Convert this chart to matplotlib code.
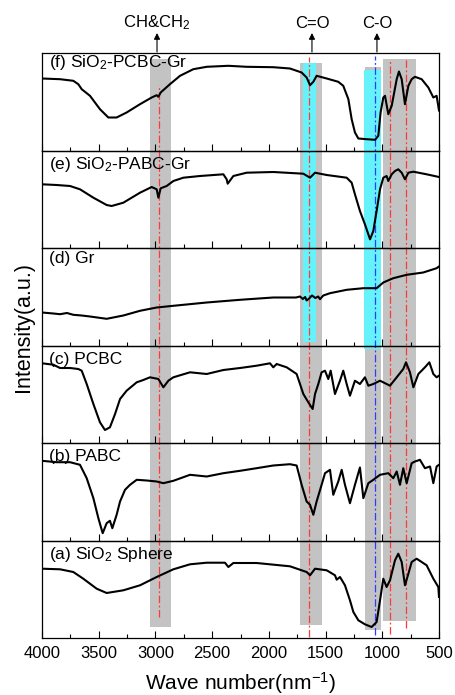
import matplotlib
matplotlib.use('Agg')
import matplotlib.pyplot as plt
from matplotlib.patches import Rectangle
from matplotlib.ticker import MultipleLocator

plt.rcParams['font.family'] = ['Liberation Sans', 'DejaVu Sans']
plt.rcParams['mathtext.fontset'] = 'custom'
plt.rcParams['mathtext.rm'] = 'Liberation Sans'
plt.rcParams['mathtext.it'] = 'Liberation Sans:italic'

# ---------------- data (wavenumber, intensity a.u.) ----------------
wn_f = [4000, 3841, 3724, 3680, 3650, 3577, 3489, 3415, 3342, 3254, 3136, 3033, 2989, 2974, 2954,
        2872, 2783, 2666, 2548, 2357, 2196, 1961, 1814, 1711, 1667, 1637, 1608, 1579, 1490, 1388,
        1344, 1299, 1270, 1241, 1211, 1138, 1064, 1035, 1015, 991, 976, 947, 917, 873, 853, 829,
        800, 770, 741, 712, 653, 594, 550, 521, 500]
int_f = [72, 71.3, 69.7, 66.3, 61.3, 54.7, 41.3, 33, 33, 38, 46.3, 53, 55.3, 53.7, 58,
         66.3, 74.7, 81.3, 83.7, 84.7, 83.7, 83.3, 82, 78, 73, 65.3, 68.7, 74.7, 72, 68.7,
         64.7, 51.3, 31.3, 18, 12, 11.3, 10.7, 14.7, 38, 53, 54.7, 36.3, 44.7, 71.3, 79, 71.3,
         46.3, 64.7, 71.3, 73.7, 71.3, 63, 53, 54.7, 40]

wn_e = [4000, 3871, 3753, 3665, 3547, 3430, 3386, 3283, 3136, 3033, 2989, 2974, 2954, 2901, 2842,
        2754, 2607, 2401, 2372, 2363, 2313, 2196, 1961, 1696, 1637, 1593, 1490, 1314, 1270, 1241,
        1197, 1153, 1108, 1079, 1050, 1020, 991, 962, 947, 917, 888, 859, 829, 800, 770, 726,
        609, 500]
int_e = [63.7, 63, 62, 58.7, 50.3, 43, 42, 45.3, 55.3, 61, 58.7, 50.3, 59.7, 62, 67,
         70.3, 72, 73.7, 68.7, 64.3, 72, 75.3, 76, 74.3, 70.3, 75.3, 73, 70.3, 65.3, 53.7,
         37, 23.7, 8.7, 17, 37, 58.7, 70.3, 72, 67, 73.7, 77, 78.7, 75.3, 68.7, 75.3, 76.3,
         73.7, 71]

wn_d = [4000, 3900, 3841, 3780, 3724, 3650, 3577, 3430, 3283, 3136, 2989, 2842, 2548, 2254, 1961,
        1760, 1726, 1700, 1680, 1667, 1645, 1620, 1608, 1590, 1565, 1549, 1520, 1461, 1314, 1167,
        1050, 991, 903, 785, 639, 521, 500]
int_d = [33, 32, 31.3, 32.5, 30.7, 30, 29, 26.7, 30, 34.7, 38, 39.7, 43, 45.7, 48,
         48, 49, 46.5, 48.5, 45, 47, 50, 49, 47.5, 49, 46.3, 50, 52.3, 55.7, 57.3,
         57.3, 63, 67.3, 70.7, 73, 77.3, 79]

wn_c = [4000, 3900, 3841, 3753, 3680, 3650, 3606, 3547, 3489, 3445, 3401, 3356, 3312, 3254, 3165,
        3107, 3048, 2974, 2930, 2886, 2842, 2695, 2548, 2401, 2254, 2108, 1990, 1961, 1931, 1843,
        1755, 1696, 1652, 1614, 1593, 1564, 1535, 1505, 1476, 1455, 1417, 1373, 1344, 1314, 1285,
        1241, 1197, 1153, 1123, 1079, 1020, 932, 873, 815, 791, 756, 726, 682, 624, 585,
        550, 521, 500]
int_c = [79.7, 78.3, 75, 75, 74, 72.3, 59, 39, 20.7, 13, 15.7, 29, 44, 52.3, 60.7,
         63, 65.7, 64, 55.7, 62.3, 65.7, 70.7, 69, 73, 75, 77.3, 79.7, 75.7, 79, 75.7,
         69, 49, 40.7, 34, 49, 59, 70.7, 72.3, 64, 72.3, 49, 62.3, 72.3, 59, 47.3,
         62.3, 59, 65.7, 57.3, 59, 62.3, 57.3, 65.7, 74, 80.7, 70.7, 55.7, 69, 75.7, 80.7,
         69, 65.7, 67.3]

wn_b = [4000, 3871, 3753, 3665, 3606, 3547, 3503, 3465, 3430, 3401, 3380, 3342, 3312, 3268, 3224,
        3165, 3077, 2989, 2930, 2842, 2695, 2548, 2401, 2254, 2108, 1961, 1814, 1755, 1711, 1667,
        1637, 1608, 1579, 1535, 1505, 1461, 1432, 1388, 1358, 1329, 1285, 1241, 1197, 1167, 1123,
        1079, 1020, 947, 903, 873, 844, 815, 785, 741, 712, 668, 624, 579, 550, 521, 500]
int_b = [79.7, 78.3, 78.3, 75.7, 62.3, 42.3, 22.3, 7.3, 17.3, 19.7, 12.3, 25.7, 39, 50.7, 55.7,
         60.7, 60, 59, 57.3, 59.7, 65.7, 64, 67.3, 69.7, 72.3, 75, 76.3, 75, 55.7, 39,
         35.7, 25.7, 39, 55.7, 67.3, 70.7, 45.7, 59, 70.7, 55.7, 37.3, 55.7, 73, 42.3, 57.3,
         60.7, 65.7, 67.3, 62.3, 69, 55.7, 72.3, 57.3, 77.3, 79, 80.7, 72.3, 74, 57.3, 74, 75.7]

wn_a = [4000, 3841, 3724, 3636, 3518, 3430, 3283, 3136, 2989, 2842, 2695, 2548, 2387, 2357, 2313,
        2108, 1814, 1667, 1637, 1593, 1490, 1417, 1402, 1373, 1329, 1285, 1255, 1211, 1153, 1094,
        1050, 1020, 991, 962, 932, 888, 859, 829, 800, 770, 741, 697, 609, 550, 506, 500]
int_a = [69.3, 68.7, 66, 59.3, 49.3, 45, 47.7, 52.7, 61, 68.7, 73.7, 75.3, 75.3, 71, 75,
         75, 71.7, 66, 62.7, 69.3, 67.7, 62.7, 58.3, 61, 52.7, 37.7, 26, 17.7, 13.7, 11,
         16, 37.7, 59.3, 51, 57.7, 77.7, 84.3, 76, 52.7, 64.3, 76, 79.3, 72.7, 59.3, 51, 41]

panel_labels = [r'(f) SiO$_{\mathrm{2}}$-PCBC-Gr', r'(e) SiO$_{\mathrm{2}}$-PABC-Gr', '(d) Gr',
                '(c) PCBC', '(b) PABC', r'(a) SiO$_{\mathrm{2}}$ Sphere']
series = [(wn_f, int_f), (wn_e, int_e), (wn_d, int_d), (wn_c, int_c), (wn_b, int_b), (wn_a, int_a)]

annot_labels = [r'CH&CH$_{\mathrm{2}}$', 'C=O', 'C-O']
annot_wn = [2986, 1620, 1047]

# ---------------- figure layout (pixel based) ----------------
W, H = 455, 695
fig = plt.figure(figsize=(W / 100, H / 100), dpi=100)
left_px, right_px, top_px, bot_px = 42, 439, 53, 638
ph = (bot_px - top_px) / 6.0


def fx(px):
    return px / W


def fy(py):
    return 1 - py / H


# background axes for the highlight bands (y measured in px above plot bottom)
bg = fig.add_axes([fx(left_px), fy(bot_px), fx(right_px - left_px), (bot_px - top_px) / H], zorder=0)
bg.set_xlim(4000, 500)
bg.set_ylim(0, bot_px - top_px)
bg.axis('off')


def yb(py):
    return bot_px - py


gray = '#c3c3c3'
cyan = '#66f2fa'
bands = [  # (w_lo, w_hi, top_px, bottom_px, color)
    (2863, 3048, 59, 627, gray),
    (1535, 1722, 63, 625, gray),
    (1015, 1153, 67, 630, gray),
    (703, 991, 59, 621, gray),
    (1586, 1695, 63, 342, cyan),
    (1013, 1160, 70, 349, cyan),
]
for lo, hi, t, b, c in bands:
    bg.add_patch(Rectangle((hi, yb(b)), lo - hi, yb(t) - yb(b), facecolor=c, edgecolor='none'))

vlines = [  # (w, top_px, bottom_px, color)
    (2970, 85, 617, '#ff3838'),
    (1643, 57, 637, '#ff3838'),
    (1060, 56, 635, '#2a3cff'),
    (932, 59, 634, '#ff3838'),
    (794, 59, 628, '#ff3838'),
]
for w, t, b, c in vlines:
    bg.plot([w, w], [yb(b), yb(t)], color=c, lw=0.9, ls=(0, (6, 2, 1.5, 2)), zorder=2)

# annotations above frame
for lab, w in zip(annot_labels, annot_wn):
    bg.annotate('', xy=(w, yb(33)), xytext=(w, yb(52)), annotation_clip=False,
                arrowprops=dict(arrowstyle='-|>', color='black', lw=0.8, mutation_scale=9,
                                shrinkA=0, shrinkB=0))
    bg.text(w, yb(23), lab, ha='center', va='center', fontsize=12, clip_on=False)

# spectra panels
axes = []
for i, ((wn, it), lab) in enumerate(zip(series, panel_labels)):
    t = top_px + i * ph
    ax = fig.add_axes([fx(left_px), fy(t + ph), fx(right_px - left_px), ph / H], zorder=1)
    ax.patch.set_visible(False)
    ax.plot(wn, it, color='black', lw=1.5)
    ax.set_xlim(4000, 500)
    ax.set_ylim(0, ph)
    ax.set_yticks([])
    ax.xaxis.set_major_locator(MultipleLocator(500))
    ax.xaxis.set_minor_locator(MultipleLocator(250))
    ax.tick_params(axis='x', which='major', direction='in', length=5, width=0.8,
                   labelsize=12, pad=6, labelbottom=(i == 5))
    ax.tick_params(axis='x', which='minor', direction='in', length=3, width=0.8)
    for s in ax.spines.values():
        s.set_linewidth(0.9)
    label_off = [9.5, 14, 11, 14, 13, 14][i]
    ax.text((49 - left_px) / (right_px - left_px), (ph - label_off) / ph, lab,
            transform=ax.transAxes, ha='left', va='center', fontsize=12.5)
    axes.append(ax)

fig.text(fx(240), fy(683), r'Wave number(nm$^{\mathrm{-1}}$)', ha='center', va='center', fontsize=15)
fig.text(fx(24), fy(327), 'Intensity(a.u.)', ha='center', va='center', rotation=90, fontsize=15.5)

fig.savefig('out.png', dpi=100, facecolor='white')
